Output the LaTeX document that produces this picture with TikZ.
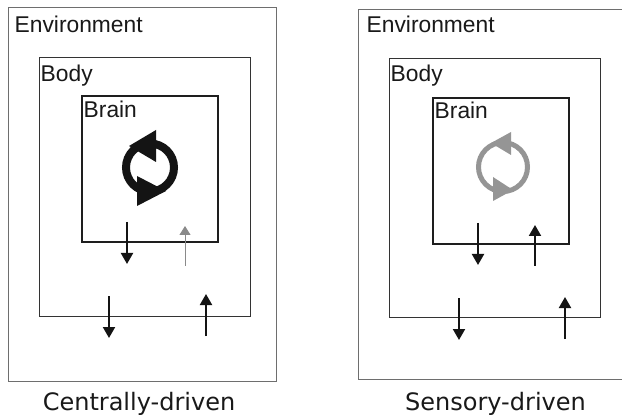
\documentclass[tikz,border=0pt]{standalone}
\usepackage{fontspec}
\setmainfont{Liberation Sans}
\newfontfamily\capfont{DejaVu Sans}
\usetikzlibrary{arrows.meta}
\definecolor{envc}{HTML}{6E6E6E}
\definecolor{bodyc}{HTML}{333333}
\definecolor{brainc}{HTML}{1E1E1E}
\definecolor{loopL}{HTML}{141414}
\definecolor{loopR}{HTML}{959595}
\definecolor{weak}{HTML}{8A8A8A}
\begin{document}
\begin{tikzpicture}[x=1pt,y=-1pt,
  envbox/.style={draw=envc,line width=1pt},
  bodybox/.style={draw=bodyc,line width=1pt},
  brainbox/.style={draw=brainc,line width=1.1pt},
  lbl/.style={anchor=base west,inner sep=0pt,font=\fontsize{22.8}{26}\selectfont,text=black!90},
  captxt/.style={anchor=base,inner sep=0pt,font=\capfont\fontsize{24}{28}\selectfont,text=black!90},
  sig/.style={draw=black!92,line width=2pt,-{Triangle[width=12pt,length=11pt,fill=black!92]}},
  weaksig/.style={draw=weak,line width=1pt,-{Triangle[width=11pt,length=9pt,fill=weak]}}]
\useasboundingbox (0,0) rectangle (622,417);
\fill[white] (0,0) rectangle (622,417);
% ---------- left panel ----------
\draw[envbox] (8,8) rectangle (276,381);
\draw[bodybox] (39,58) rectangle (250,316);
\draw[brainbox] (82,96) rectangle (218,242);
\node[lbl] (envL) at (14.5,33) {Environment};
\node[lbl] (bodyL) at (40.5,82) {Body};
\node[lbl] (brainL) at (83.5,118) {Brain};
\draw[loopL,line width=8pt] (150,167.5) circle[radius=24];
\fill[loopL] (129,146) -- (156,130) -- (156,162) -- cycle;
\fill[loopL] (166,191) -- (137,176) -- (137,206) -- cycle;
\coordinate (a1s) at (127,222); \coordinate (a1e) at (127,264);
\coordinate (a2s) at (185,266); \coordinate (a2e) at (185,226);
\coordinate (a3s) at (109,296); \coordinate (a3e) at (109,338);
\coordinate (a4s) at (206,336); \coordinate (a4e) at (206,294);
\draw[sig] (a1s) -- (a1e);
\draw[weaksig] (a2s) -- (a2e);
\draw[sig] (a3s) -- (a3e);
\draw[sig] (a4s) -- (a4e);
\node[captxt] (capL) at (139,410) {Centrally-driven};
% ---------- right panel ----------
\draw[envbox] (623,10) -- (358,10) -- (358,379) -- (623,379);
\draw[bodybox] (389,59) rectangle (600,317);
\draw[brainbox] (433,98) rectangle (569,244);
\node[lbl] (envR) at (366.5,33) {Environment};
\node[lbl] (bodyR) at (390.5,82) {Body};
\node[lbl] (brainR) at (434.5,119) {Brain};
\draw[loopR,line width=5pt] (503,167) circle[radius=24.5];
\fill[loopR] (491,143) -- (511,132) -- (511,155) -- cycle;
\fill[loopR] (513,190) -- (493,177) -- (493,201) -- cycle;
\coordinate (b1s) at (478,223); \coordinate (b1e) at (478,265);
\coordinate (b2s) at (535,266); \coordinate (b2e) at (535,225);
\coordinate (b3s) at (459,298); \coordinate (b3e) at (459,340);
\coordinate (b4s) at (565,339); \coordinate (b4e) at (565,297);
\draw[sig] (b1s) -- (b1e);
\draw[sig] (b2s) -- (b2e);
\draw[sig] (b3s) -- (b3e);
\draw[sig] (b4s) -- (b4e);
\node[captxt] (capR) at (495.5,410) {Sensory-driven};
\end{tikzpicture}
\end{document}
